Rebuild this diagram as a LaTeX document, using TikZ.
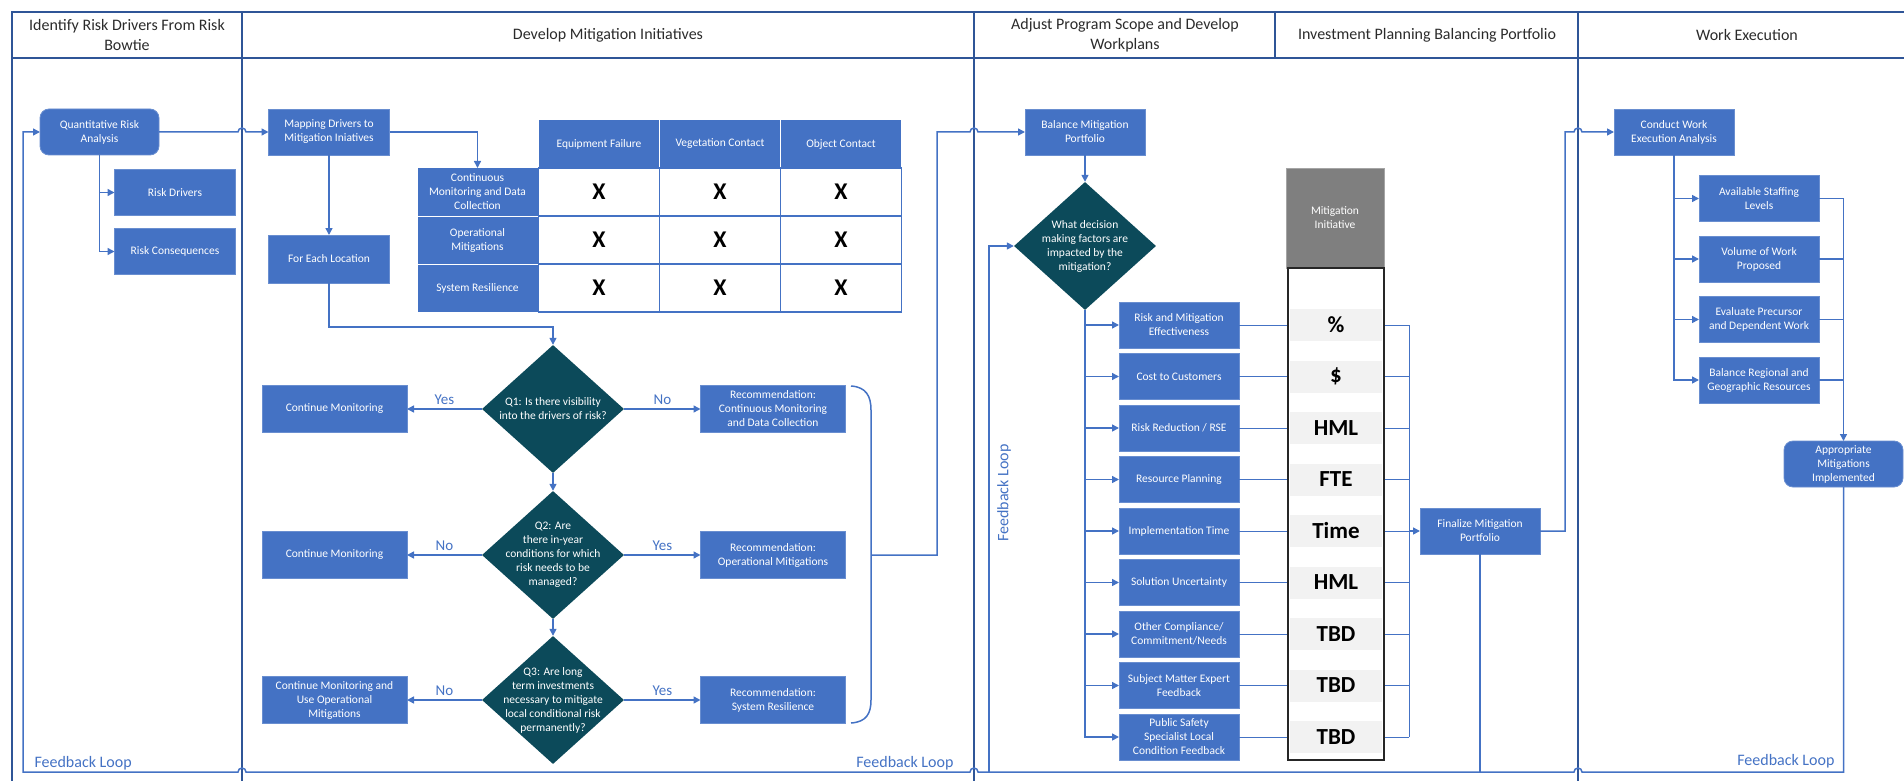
\documentclass[tikz,border=0pt]{standalone}
\usepackage{fontspec}
\setmainfont{Carlito}
\usepackage{xcolor}
\usetikzlibrary{shapes.geometric,arrows.meta,positioning}
\definecolor{boxblue}{HTML}{4472C4}
\definecolor{frameblue}{HTML}{2F5597}
\definecolor{darkteal}{HTML}{0C4A5A}
\definecolor{midgray}{HTML}{7F7F7F}
\definecolor{cellgray}{HTML}{F2F2F2}
\definecolor{headtext}{HTML}{2B2B2B}

\begin{document}
\begin{tikzpicture}[
    x=1pt, y=-1pt,
    box/.style={rectangle, fill=boxblue, draw=boxblue!80!white, line width=0.8pt, outer sep=0pt, minimum width=121pt, minimum height=46pt, inner sep=1pt, align=center, text=white, font=\fontsize{11.5}{14}\selectfont},
    rbox/.style={box, rounded corners=9pt},
    wide/.style={box, minimum width=145pt, minimum height=47pt},
    hcell/.style={box, draw=white, line width=1pt, minimum height=48pt},
    xcell/.style={rectangle, fill=white, draw=boxblue, line width=1.5pt, outer sep=0pt, minimum width=121pt, minimum height=48pt, font=\fontsize{24}{24}\selectfont\bfseries},
    decision/.style={diamond, fill=darkteal, minimum width=142pt, minimum height=128pt, inner sep=0pt},
    qtext/.style={text=white, align=center, font=\fontsize{11.5}{14}\selectfont},
    val/.style={rectangle, fill=cellgray, minimum width=92pt, minimum height=32pt, font=\fontsize{23}{23}\selectfont\bfseries},
    lane/.style={font=\fontsize{16}{20}\selectfont, align=center, text=headtext},
    fb/.style={text=boxblue, font=\fontsize{16}{16}\selectfont},
    yn/.style={text=boxblue, font=\fontsize{15}{15}\selectfont, above},
    frame/.style={draw=frameblue, line width=2.5pt},
    line/.style={draw=boxblue, line width=1.5pt},
    thin/.style={draw=boxblue, line width=1pt},
    arrow/.style={line, -{Triangle[length=7pt,width=7pt]}}
]
\useasboundingbox (0,0) rectangle (1904,781);

\draw[frame] (12,781) -- (12,12) -- (1904,12);
\draw[frame] (12,58) -- (1904,58);
\draw[frame] (242,12) -- (242,781);
\draw[frame] (974,12) -- (974,781);
\draw[frame] (1275,12) -- (1275,58);
\draw[frame] (1578,12) -- (1578,781);

\node[lane] (t1) at (127,35) {Identify Risk Drivers From Risk\\Bowtie};
\node[lane] (t2) at (608,35) {Develop Mitigation Initiatives};
\node[lane] (t3) at (1125,35) {Adjust Program Scope and Develop\\Workplans};
\node[lane] (t4) at (1427,35) {Investment Planning Balancing Portfolio};
\node[lane] (t5) at (1747,35) {Work Execution};

\node[rbox, minimum width=119pt] (qra) at (99.5,132) {Quantitative Risk\\Analysis};
\node[box] (drv) at (175,192.5) {Risk Drivers};
\node[box, below=13pt of drv] (cons) {Risk Consequences};

\node[box] (map) at (329,132) {Mapping Drivers to\\Mitigation Iniatives};
\node[box, minimum height=48pt] (loc) at (329,259) {For Each Location};

\node[hcell] (h1) at (599,144) {Equipment Failure};
\node[hcell, right=0pt of h1] (h2) {Vegetation Contact};
\node[hcell, right=0pt of h2] (h3) {Object Contact};
\node[hcell] (r1) at (477.5,192) {Continuous\\Monitoring and Data\\Collection};
\node[hcell, below=0pt of r1] (r2) {Operational\\Mitigations};
\node[hcell, below=0pt of r2] (r3) {System Resilience};
\node[xcell] (x11) at (r1 -| h1) {X};
\node[xcell] (x12) at (r1 -| h2) {X};
\node[xcell] (x13) at (r1 -| h3) {X};
\node[xcell] (x21) at (r2 -| h1) {X};
\node[xcell] (x22) at (r2 -| h2) {X};
\node[xcell] (x23) at (r2 -| h3) {X};
\node[xcell] (x31) at (r3 -| h1) {X};
\node[xcell] (x32) at (r3 -| h2) {X};
\node[xcell] (x33) at (r3 -| h3) {X};

\node[decision, label={[qtext]center:{Q1: Is there visibility\\into the drivers of risk?}}] (q1) at (553,409) {};
\node[decision, label={[qtext]center:{Q2: Are\\there in-year\\conditions for which\\risk needs to be\\managed?}}] (q2) at (553,555) {};
\node[decision, label={[qtext]center:{Q3: Are long\\term investments\\necessary to mitigate\\local conditional risk\\permanently?}}] (q3) at (553,700) {};
\node[wide] (cm1) at (334.5,409) {Continue Monitoring};
\node[wide] (cm2) at (334.5,555) {Continue Monitoring};
\node[wide] (cm3) at (334.5,700) {Continue Monitoring and\\Use Operational\\Mitigations};
\node[wide] (rec1) at (773,409) {Recommendation:\\Continuous Monitoring\\and Data Collection};
\node[wide] (rec2) at (773,555) {Recommendation:\\Operational Mitigations};
\node[wide] (rec3) at (773,700) {Recommendation:\\System Resilience};
\coordinate (brace) at (871,555);

\node[box, minimum width=120pt] (bal) at (1085,132) {Balance Mitigation\\Portfolio};
\node[decision, label={[qtext]center:{What decision\\making factors are\\impacted by the\\mitigation?}}] (dec) at (1085,246) {};
\node[box, minimum width=120pt] (f1) at (1179,325) {Risk and Mitigation\\Effectiveness};
\node[box, minimum width=120pt, below=5.5pt of f1] (f2) {Cost to Customers};
\node[box, minimum width=120pt, below=5.5pt of f2] (f3) {Risk Reduction / RSE};
\node[box, minimum width=120pt, below=5.5pt of f3] (f4) {Resource Planning};
\node[box, minimum width=120pt, below=5.5pt of f4] (f5) {Implementation Time};
\node[box, minimum width=120pt, below=5.5pt of f5] (f6) {Solution Uncertainty};
\node[box, minimum width=120pt, below=5.5pt of f6] (f7) {Other Compliance/\\Commitment/Needs};
\node[box, minimum width=120pt, below=5.5pt of f7] (f8) {Subject Matter Expert\\Feedback};
\node[box, minimum width=120pt, below=5.5pt of f8] (f9) {Public Safety\\Specialist Local\\Condition Feedback};

\node[rectangle, fill=midgray, draw=midgray!70, minimum width=98pt, minimum height=100pt, align=center, text=white, font=\fontsize{11.5}{14}\selectfont] (mi) at (1335,218) {Mitigation\\Initiative};
\node[rectangle, draw=black!85, line width=1.5pt, minimum width=96pt, minimum height=492pt] (col) at (1336,514) {};
\node[val] (v1) at (f1 -| col) {\%};
\node[val] (v2) at (f2 -| col) {\$};
\node[val] (v3) at (f3 -| col) {HML};
\node[val] (v4) at (f4 -| col) {FTE};
\node[val] (v5) at (f5 -| col) {Time};
\node[val] (v6) at (f6 -| col) {HML};
\node[val] (v7) at (f7 -| col) {TBD};
\node[val] (v8) at (f8 -| col) {TBD};
\node[val] (v9) at (f9 -| col) {TBD};
\coordinate (bus) at (1409,0);
\node[box, minimum width=120pt] (fin) at (1480,531) {Finalize Mitigation\\Portfolio};

\node[box, minimum width=120pt] (cwe) at (1674,132) {Conduct Work\\Execution Analysis};
\node[box, minimum width=120pt] (w1) at (1759,198.5) {Available Staffing\\Levels};
\node[box, minimum width=120pt, below=14.5pt of w1] (w2) {Volume of Work\\Proposed};
\node[box, minimum width=120pt, below=14.5pt of w2] (w3) {Evaluate Precursor\\and Dependent Work};
\node[box, minimum width=120pt, below=14.5pt of w3] (w4) {Balance Regional and\\Geographic Resources};
\node[rbox, minimum width=119pt] (appr) at (1843.5,464) {Appropriate\\Mitigations\\Implemented};

\node[fb, anchor=base west] (fb1) at (31,767) {Feedback Loop};
\node[fb, anchor=base east] (fb2) at (957,767) {Feedback Loop};
\node[fb, rotate=90] (fb3) at (1004,493) {Feedback Loop};
\node[fb, anchor=base east] (fb4) at (1838,765) {Feedback Loop};
\coordinate (fbase) at (0,772);
\coordinate (fbdec) at (989,772);

\draw[arrow] (qra.east) -- (238,132) arc[start angle=180, end angle=0, radius=4pt] -- (map.west);
\draw[arrow] (qra.south) |- (drv.west);
\draw[arrow] (qra.south) |- (cons.west);
\draw[arrow] (map) -- (loc);
\draw[arrow] (map.east) -| (r1.north);
\draw[arrow] (loc.south) |- (553,327) -- (q1.north);
\draw[arrow] (q1) -- node[yn] {Yes} (cm1);
\draw[arrow] (q1) -- node[yn] {No} (rec1);
\draw[arrow] (q2) -- node[yn] {No} (cm2);
\draw[arrow] (q2) -- node[yn] {Yes} (rec2);
\draw[arrow] (q3) -- node[yn] {No} (cm3);
\draw[arrow] (q3) -- node[yn] {Yes} (rec3);
\draw[arrow] (q1) -- (q2);
\draw[arrow] (q2) -- (q3);
\draw[line] (851,386) .. controls (866,387) and (871,396) .. (871,410) -- (871,700) .. controls (871,714) and (866,722) .. (851,723);
\draw[arrow] (brace) -- (937,555) -- (937,132) -- (970,132) arc[start angle=180, end angle=0, radius=4pt] -- (bal.west);

\draw[arrow] (bal) -- (dec);
\draw[arrow] (dec.south) |- (f1.west);
\draw[arrow] (dec.south) |- (f2.west);
\draw[arrow] (dec.south) |- (f3.west);
\draw[arrow] (dec.south) |- (f4.west);
\draw[arrow] (dec.south) |- (f5.west);
\draw[arrow] (dec.south) |- (f6.west);
\draw[arrow] (dec.south) |- (f7.west);
\draw[arrow] (dec.south) |- (f8.west);
\draw[arrow] (dec.south) |- (f9.west);
\draw[thin] (f1.east) -- (f1.east -| col.west);
\draw[thin] (f2.east) -- (f2.east -| col.west);
\draw[thin] (f3.east) -- (f3.east -| col.west);
\draw[thin] (f4.east) -- (f4.east -| col.west);
\draw[thin] (f5.east) -- (f5.east -| col.west);
\draw[thin] (f6.east) -- (f6.east -| col.west);
\draw[thin] (f7.east) -- (f7.east -| col.west);
\draw[thin] (f8.east) -- (f8.east -| col.west);
\draw[thin] (f9.east) -- (f9.east -| col.west);
\draw[thin] (v1 -| col.east) -- (v1 -| bus);
\draw[thin] (v2 -| col.east) -- (v2 -| bus);
\draw[thin] (v3 -| col.east) -- (v3 -| bus);
\draw[thin] (v4 -| col.east) -- (v4 -| bus);
\draw[thin] (v5 -| col.east) -- (v5 -| bus);
\draw[thin] (v6 -| col.east) -- (v6 -| bus);
\draw[thin] (v7 -| col.east) -- (v7 -| bus);
\draw[thin] (v8 -| col.east) -- (v8 -| bus);
\draw[thin] (v9 -| col.east) -- (v9 -| bus);
\draw[thin] (v1 -| bus) -- (v9 -| bus);
\draw[arrow] (v5 -| bus) -- (fin.west);
\draw[arrow] (fin.east) -- (1565,531) -- (1565,132) -- (1574,132) arc[start angle=180, end angle=0, radius=4pt] -- (cwe.west);
\draw[line] (fin.south) -- (fin.south |- fbase);

\draw[arrow] (cwe.south) |- (w1.west);
\draw[arrow] (cwe.south) |- (w2.west);
\draw[arrow] (cwe.south) |- (w3.west);
\draw[arrow] (cwe.south) |- (w4.west);
\draw[arrow] (w1.east) -| (appr.north);
\draw[line] (w2.east) -- (w2.east -| appr.north);
\draw[line] (w3.east) -- (w3.east -| appr.north);
\draw[line] (w4.east) -- (w4.east -| appr.north);

\draw[arrow] (appr.south) -- (appr.south |- fbase) -- (1582,772) arc[start angle=0, end angle=180, radius=4pt] -- (978,772) arc[start angle=0, end angle=180, radius=4pt] -- (246,772) arc[start angle=0, end angle=180, radius=4pt] -- (23,772) |- (qra.west);
\draw[arrow] (fbdec) |- (dec.west);
\end{tikzpicture}
\end{document}
